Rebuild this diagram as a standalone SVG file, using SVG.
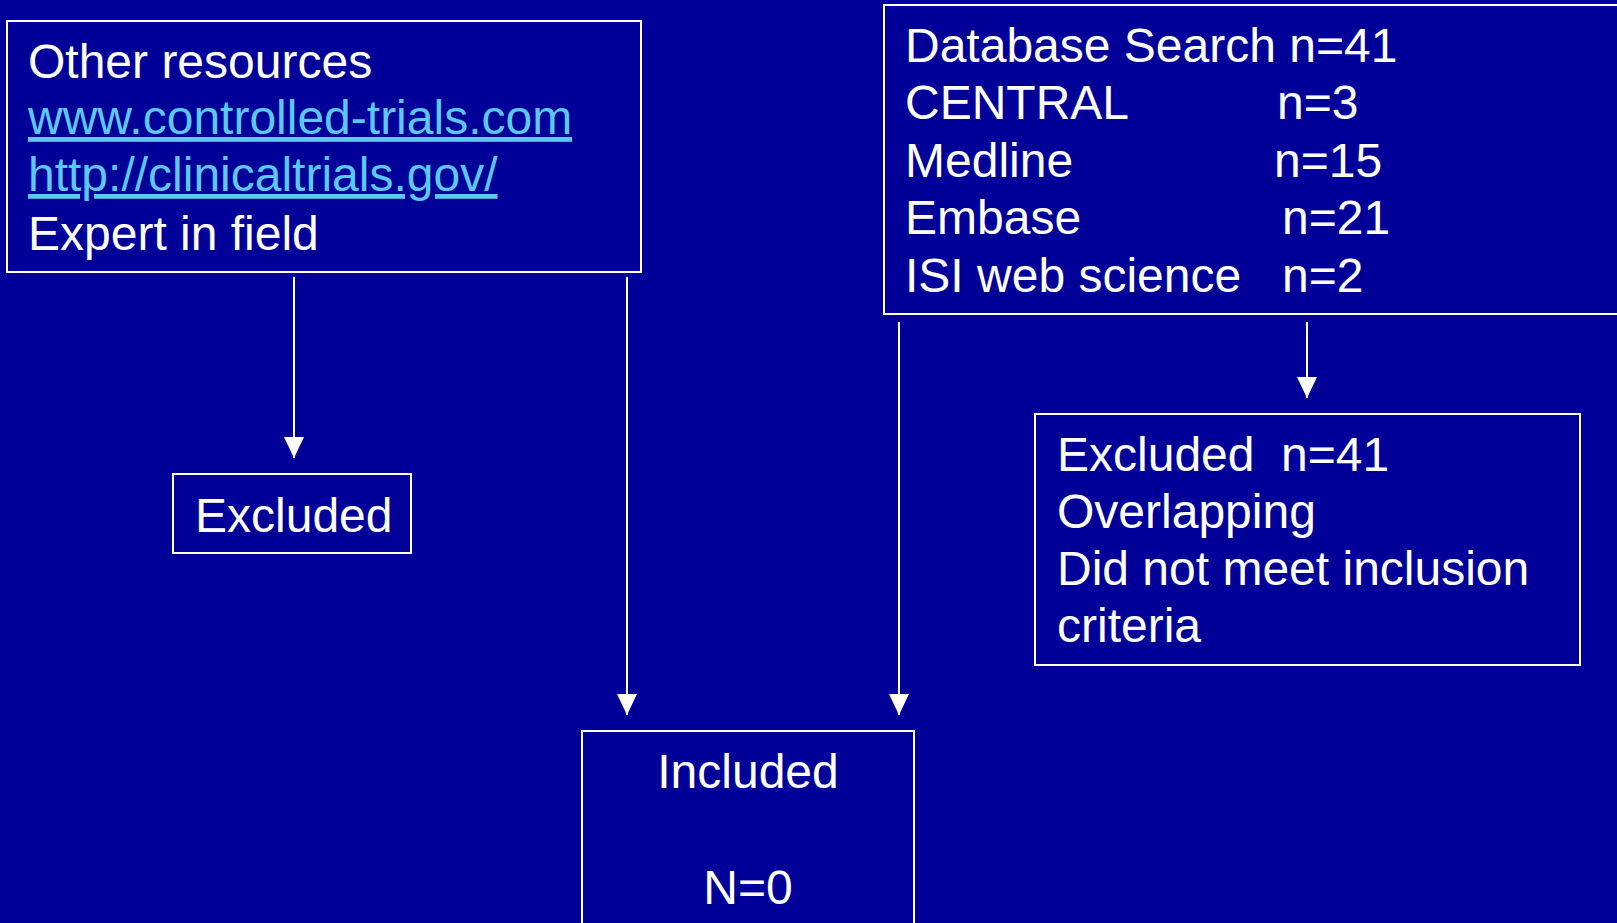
<svg xmlns="http://www.w3.org/2000/svg" width="1617" height="923" viewBox="0 0 1617 923">
<defs>
<style>
.box{fill:none;stroke:#ffffff;stroke-width:2}
.t{font-family:"Liberation Sans",Arial,sans-serif;font-size:48px;fill:#ffffff}
.link{fill:#5cc8f8;text-decoration:underline}
.conn{stroke:#ffffff;stroke-width:2;fill:none}
</style>
<marker id="arr" markerUnits="userSpaceOnUse" markerWidth="22" markerHeight="22" viewBox="0 0 22 22" refX="21" refY="11" orient="auto">
<path d="M0,1 L21,11 L0,21 Z" fill="#ffffff"/>
</marker>
</defs>
<rect x="0" y="0" width="1617" height="923" fill="#000099"/>
<g id="other-resources">
<rect class="box" x="7" y="21" width="634" height="251"/>
<text class="t" x="28" y="78">Other resources</text>
<text class="t link" x="28" y="134">www.controlled-trials.com</text>
<text class="t link" x="28" y="191">http://clinicaltrials.gov/</text>
<text class="t" x="28" y="250">Expert in field</text>
</g>
<g id="database-search">
<rect class="box" x="884" y="5" width="740" height="309"/>
<text class="t" x="905" y="62">Database Search n=41</text>
<text class="t" x="905" y="119">CENTRAL</text><text class="t" x="1277" y="119">n=3</text>
<text class="t" x="905" y="177">Medline</text><text class="t" x="1274" y="177">n=15</text>
<text class="t" x="905" y="234">Embase</text><text class="t" x="1282" y="234">n=21</text>
<text class="t" x="905" y="292">ISI web science</text><text class="t" x="1282" y="292">n=2</text>
</g>
<g id="excluded-left">
<rect class="box" x="173" y="474" width="238" height="79"/>
<text class="t" x="195" y="532">Excluded</text>
</g>
<g id="excluded-right">
<rect class="box" x="1035" y="414" width="545" height="251"/>
<text class="t" x="1057" y="471">Excluded</text><text class="t" x="1281" y="471">n=41</text>
<text class="t" x="1057" y="528">Overlapping</text>
<text class="t" x="1057" y="585">Did not meet inclusion</text>
<text class="t" x="1057" y="642">criteria</text>
</g>
<g id="included">
<rect class="box" x="582" y="731" width="332" height="200"/>
<text class="t" x="748" y="788" text-anchor="middle">Included</text>
<text class="t" x="748" y="904" text-anchor="middle">N=0</text>
</g>
<g id="connectors">
<line class="conn" x1="294" y1="277" x2="294" y2="458" marker-end="url(#arr)"/>
<line class="conn" x1="627" y1="277" x2="627" y2="715" marker-end="url(#arr)"/>
<line class="conn" x1="899" y1="322" x2="899" y2="715" marker-end="url(#arr)"/>
<line class="conn" x1="1307" y1="322" x2="1307" y2="398" marker-end="url(#arr)"/>
</g>
</svg>
